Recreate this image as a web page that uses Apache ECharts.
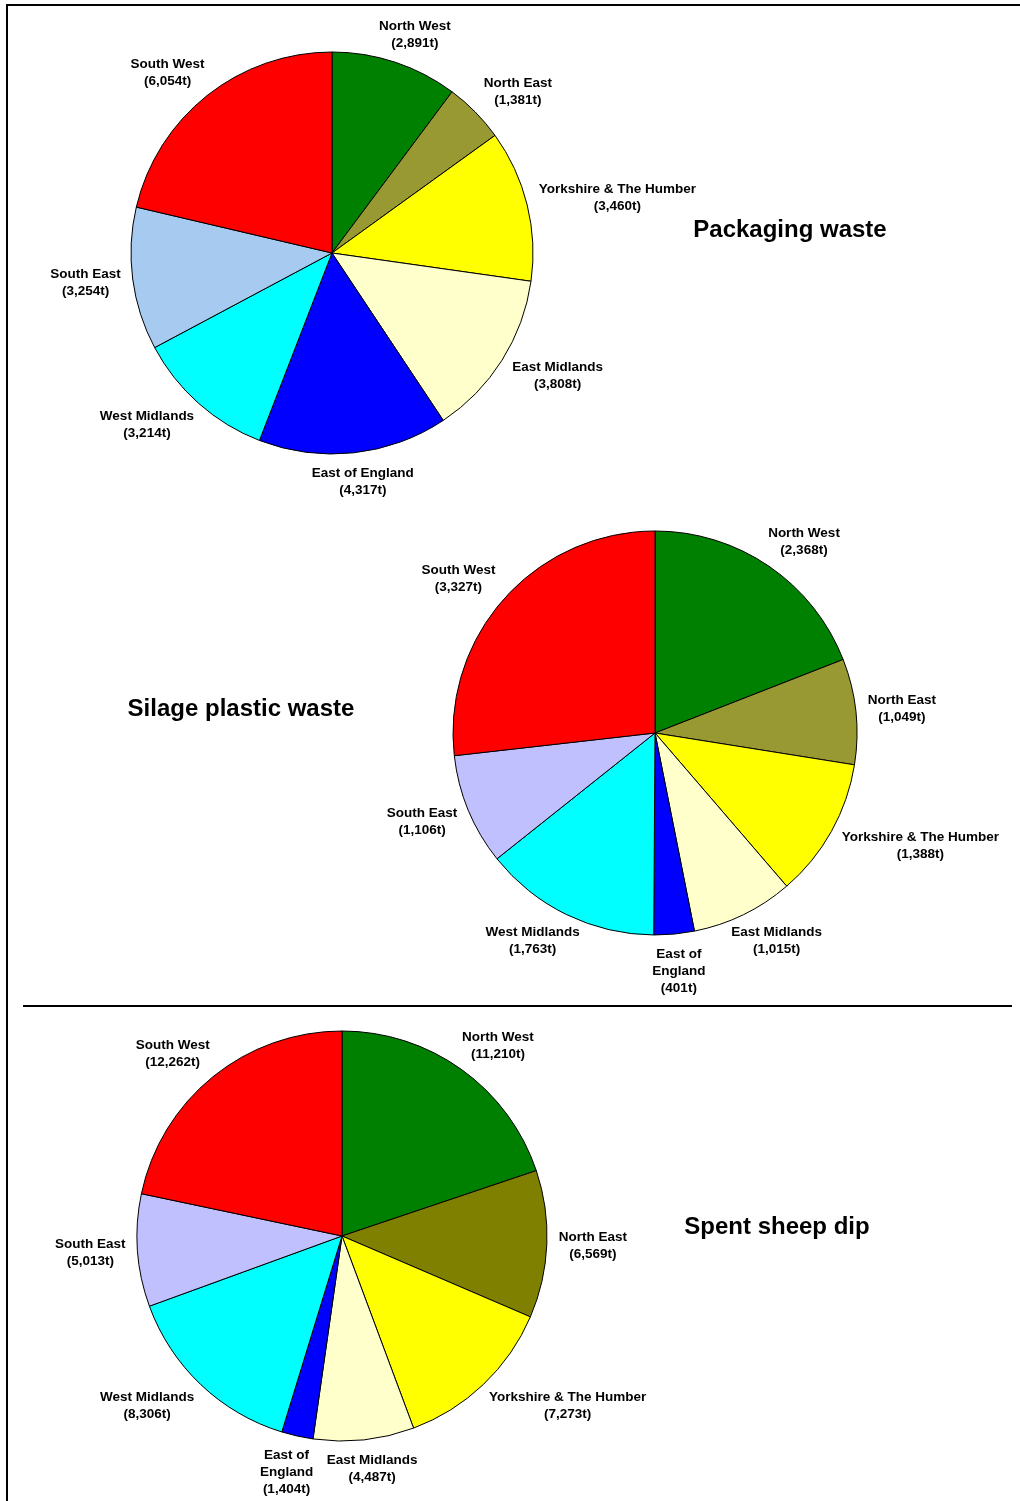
<!DOCTYPE html>
<html>
<head>
<meta charset="utf-8">
<script src="https://cdn.jsdelivr.net/npm/echarts@6/dist/echarts.min.js"></script>
<style>
  html, body { margin: 0; padding: 0; background: #fff; }
  #chart { width: 1020px; height: 1501px; }
</style>
</head>
<body>
<div id="chart"></div>
<script>
// Regions in drawing order (clockwise from 12 o'clock)
const regions = ['North West', 'North East', 'Yorkshire & The Humber', 'East Midlands',
                 'East of England', 'West Midlands', 'South East', 'South West'];

// Tonnes per region for each waste stream
const packagingTonnes = [2891, 1381, 3460, 3808, 4317, 3214, 3254, 6054];
const silageTonnes    = [2368, 1049, 1388, 1015, 401, 1763, 1106, 3327];
const sheepDipTonnes  = [11210, 6569, 7273, 4487, 1404, 8306, 5013, 12262];

// Chart titles
const titles = ['Packaging waste', 'Silage plastic waste', 'Spent sheep dip'];

// Slice colours per chart
const packagingColors = ['#008000', '#999933', '#FFFF00', '#FFFFCC', '#0000FF', '#00FFFF', '#A6CAF0', '#FF0000'];
const silageColors    = ['#008000', '#999933', '#FFFF00', '#FFFFCC', '#0000FF', '#00FFFF', '#C0C0FF', '#FF0000'];
const sheepDipColors  = ['#008000', '#808000', '#FFFF00', '#FFFFCC', '#0000FF', '#00FFFF', '#C0C0FF', '#FF0000'];

const FONT = '"Liberation Sans", Arial, sans-serif';

function fmt(v) {
  return v.toString().replace(/\B(?=(\d{3})+(?!\d))/g, ',');
}

// Label text: region name (optionally wrapped) plus tonnage
function buildData(values, colors, wrapEast) {
  return regions.map(function (name, i) {
    let shown = name;
    if (wrapEast && name === 'East of England') shown = 'East of\nEngland';
    return {
      name: name,
      value: values[i],
      labelText: shown + '\n(' + fmt(values[i]) + 't)',
      itemStyle: { color: colors[i] }
    };
  });
}

// Centre each label box just beyond the end of its (hidden) leader line:
// shifted sideways by up to half its width, and vertically by a share of
// half its height, depending on the slice's mid direction.
function placeLabel(p) {
  const pts = p.labelLinePoints;
  if (!pts || pts.length < 2) return {};
  const dx = pts[1][0] - pts[0][0];
  const dy = pts[1][1] - pts[0][1];
  const len = Math.sqrt(dx * dx + dy * dy) || 1;
  const ux = dx / len, uy = dy / len;
  const a = p.labelRect.width / 2, b = p.labelRect.height / 2;
  const sx = (ux < 0 ? -1 : 1) * Math.min(1, Math.abs(ux) * 1.4);
  return {
    x: pts[1][0] + a * sx,
    y: pts[1][1] + b * uy,
    align: 'center',
    verticalAlign: 'middle'
  };
}

function pieSeries(center, radius, data) {
  return {
    type: 'pie',
    center: center,
    radius: radius,
    startAngle: 90,
    clockwise: true,
    avoidLabelOverlap: false,
    silent: true,
    animation: false,
    data: data,
    itemStyle: { borderColor: '#000', borderWidth: 1 },
    label: {
      show: true,
      position: 'outside',
      formatter: function (d) { return d.data.labelText; },
      color: '#000',
      fontFamily: FONT,
      fontWeight: 'bold',
      fontSize: 13.5,
      lineHeight: 17,
      align: 'center'
    },
    labelLine: { show: true, length: 12, length2: 0, lineStyle: { opacity: 0 } },
    labelLayout: placeLabel,
    emphasis: { disabled: true }
  };
}

function titleText(text, x, y) {
  return {
    type: 'text',
    x: x,
    y: y,
    silent: true,
    style: {
      text: text,
      fill: '#000',
      font: 'bold 24px ' + FONT,
      align: 'center',
      verticalAlign: 'middle'
    }
  };
}

function rule(x1, y1, x2, y2) {
  return {
    type: 'line',
    silent: true,
    shape: { x1: x1, y1: y1, x2: x2, y2: y2 },
    style: { stroke: '#000', lineWidth: 2 }
  };
}

const chart = echarts.init(document.getElementById('chart'), null, { renderer: 'canvas' });

chart.setOption({
  backgroundColor: '#fff',
  animation: false,
  series: [
    pieSeries([332, 253], 201, buildData(packagingTonnes, packagingColors, false)),
    pieSeries([655, 733], 202, buildData(silageTonnes, silageColors, true)),
    pieSeries([342, 1236], 205, buildData(sheepDipTonnes, sheepDipColors, true))
  ],
  graphic: [
    rule(6, 5, 1020, 5),
    rule(7, 4, 7, 1501),
    rule(23, 1006, 1012, 1006),
    titleText(titles[0], 790, 230),
    titleText(titles[1], 241, 709),
    titleText(titles[2], 777, 1227)
  ]
});
</script>
</body>
</html>
